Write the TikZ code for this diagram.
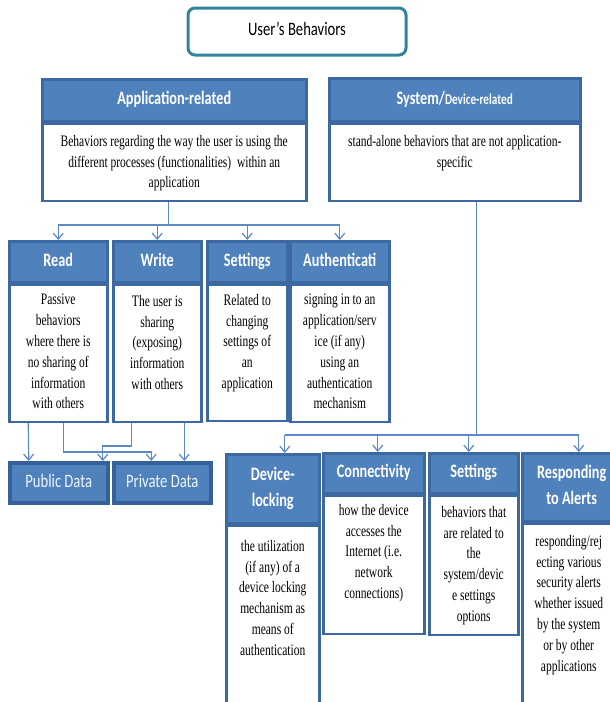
\documentclass[tikz,border=0pt]{standalone}
\usepackage{fontspec}
\setmainfont{Liberation Serif}
\newfontfamily\hdrfont[FakeStretch=0.77]{Carlito}
\newfontfamily\hdrbold[FakeStretch=0.75]{Carlito Bold}
\newfontfamily\txtfont[FakeStretch=0.72]{Liberation Serif}
\usetikzlibrary{positioning,arrows.meta}
\definecolor{hdrblue}{HTML}{4F81BD}
\definecolor{edgeblue}{HTML}{3D69A3}
\definecolor{dataedge}{HTML}{36609A}
\definecolor{linkblue}{HTML}{5B8AC6}
\definecolor{titleteal}{HTML}{31849B}
\tikzset{
  hdr/.style={draw=edgeblue, line width=2.5pt, fill=hdrblue, text=white, inner sep=0pt,
    anchor=north west, align=center, text height=14pt, text depth=5pt,
    font=\hdrbold\fontsize{19}{26}\selectfont},
  twoline/.style={text height=40pt},
  datahdr/.style={hdr, draw=dataedge, line width=3.5pt, text=white!92!hdrblue,
    font=\hdrfont\fontsize{19}{26}\selectfont},
  bodybox/.style={draw=edgeblue, line width=2.5pt, fill=white, inner sep=0pt, anchor=north west},
  bodytxt/.style={inner sep=0pt, anchor=north, align=center, font=\txtfont\fontsize{16}{20.8}\selectfont},
  link/.style={draw=linkblue, line width=1.2pt},
  arr/.style={link, -{Straight Barb[length=6pt,width=10pt]}},
}
\begin{document}
\begin{tikzpicture}[x=1pt, y=-1pt]
  \useasboundingbox (0,0) rectangle (610,702);
  \node[draw=titleteal, line width=3pt, rounded corners=7pt, minimum width=218pt, minimum height=47pt,
    text height=14pt, text depth=6pt, font=\hdrfont\fontsize{19}{24}\selectfont] (title) at (297,31.5) {User’s Behaviors};

  % application-related
  \node[hdr, minimum width=264pt, minimum height=42pt] (apph) at (41,78) {Application-related};
  \node[bodybox, minimum width=264pt, minimum height=77pt] (appb) at (apph.south west) {};
  \node[bodytxt, below=12.5pt of appb.north] (appt) {Behaviors regarding the way the user is using the\\
    different processes (functionalities)\ \ within an\\application};

  % system/device-related
  \node[hdr, minimum width=251pt, minimum height=43pt] (sysh) at (328,77)
    {System/{\fontsize{15}{20}\selectfont Device-related}};
  \node[bodybox, minimum width=251pt, minimum height=77pt] (sysb) at (sysh.south west) {};
  \node[bodytxt, below=12.5pt of sysb.north] (syst) {stand-alone behaviors that are not application-\\specific};

  % application behaviors
  \node[hdr, minimum width=98pt, minimum height=41pt] (readh) at (8,240) {Read};
  \node[bodybox, minimum width=98pt, minimum height=137pt] (readb) at (readh.south west) {};
  \node[bodytxt, below=10.5pt of readb.north] (readt) {Passive\\behaviors\\where there is\\no sharing of\\information\\with others};

  \node[hdr, minimum width=88pt, minimum height=41pt] (writeh) at (112,240) {Write};
  \node[bodybox, minimum width=88pt, minimum height=137pt] (writeb) at (writeh.south west) {};
  \node[bodytxt, below=11.5pt of writeb.north] (writet) {The user is\\sharing\\(exposing)\\information\\with others};

  \node[hdr, minimum width=80pt, minimum height=41pt] (aseth) at (206,240) {Settings};
  \node[bodybox, minimum width=80pt, minimum height=136pt] (asetb) at (aseth.south west) {};
  \node[bodytxt, below=10.5pt of asetb.north] (asett) {Related to\\changing\\settings of\\an\\application};

  \node[hdr, minimum width=99pt, minimum height=41pt] (authh) at (289,240) {Authenticati};
  \node[bodybox, minimum width=99pt, minimum height=137pt] (authb) at (authh.south west) {};
  \node[bodytxt, below=10.5pt of authb.north] (autht) {signing in to an\\application/serv\\ice (if any)\\using an\\authentication\\mechanism};

  \node[datahdr, minimum width=98pt, minimum height=40pt] (pubh) at (8,461) {Public Data};
  \node[datahdr, minimum width=97pt, minimum height=40pt] (privh) at (112,461) {Private Data};

  % system behaviors
  \node[hdr, twoline, minimum width=93pt, minimum height=69pt] (devh) at (225,453) {Device-\\locking};
  \node[bodybox, minimum width=93pt, minimum height=178pt] (devb) at (devh.south west) {};
  \node[bodytxt, below=15.5pt of devb.north] (devt) {the utilization\\(if any) of a\\device locking\\mechanism as\\means of\\authentication};

  \node[hdr, minimum width=101pt, minimum height=40pt] (connh) at (322,452) {Connectivity};
  \node[bodybox, minimum width=101pt, minimum height=138pt] (connb) at (connh.south west) {};
  \node[bodytxt, below=9.5pt of connb.north] (connt) {how the device\\accesses the\\Internet (i.e.\\network\\connections)};

  \node[hdr, minimum width=89pt, minimum height=40pt] (sseth) at (428,452) {Settings};
  \node[bodybox, minimum width=89pt, minimum height=139pt] (ssetb) at (sseth.south west) {};
  \node[bodytxt, below=11.5pt of ssetb.north] (ssett) {behaviors that\\are related to\\the\\system/devic\\e settings\\options};

  \node[hdr, twoline, minimum width=99pt, minimum height=68pt] (resph) at (521,452) {Responding\\to Alerts};
  \node[bodybox, minimum width=99pt, minimum height=200pt] (respb) at (resph.south west) {};
  \node[bodytxt, below=12.5pt of respb.north, xshift=-3pt] (respt) {responding/rej\\ecting various\\security alerts\\whether issued\\by the system\\or by other\\applications};

  % connectors
  \draw[link] ([xshift=-6pt]appb.south) -- ++(0,23) coordinate (appbus);
  \draw[link] (appbus -| readh.north) -- (appbus -| authh.north);
  \foreach \n in {readh,writeh,aseth,authh}
    \draw[arr] (appbus -| \n.north) -- (\n.north);

  \coordinate (devin) at ([xshift=12pt]devh.north);
  \coordinate (connin) at ([xshift=4pt]connh.north);
  \coordinate (ssetin) at ([xshift=-5pt]sseth.north);
  \coordinate (respin) at ([xshift=7pt]resph.north);
  \draw[link] ([xshift=22pt]sysb.south) -- ++(0,233) coordinate (sysbus);
  \draw[link] (sysbus -| devin) -- (sysbus -| respin);
  \foreach \n in {devin,connin,ssetin,respin}
    \draw[arr] (sysbus -| \n) -- (\n);

  \draw[arr] ([xshift=-30pt]readb.south) -- ([xshift=-30pt]pubh.north);
  \draw[arr] ([xshift=5pt]readb.south) -- ++(0,29) -| ([xshift=-11pt]privh.north);
  \draw[arr] ([xshift=-26pt]writeb.south) -- ++(0,23) -| ([xshift=44pt]pubh.north);
  \draw[arr] ([xshift=27pt]writeb.south) -- ([xshift=27pt]writeb.south |- privh.north);
\end{tikzpicture}
\end{document}
